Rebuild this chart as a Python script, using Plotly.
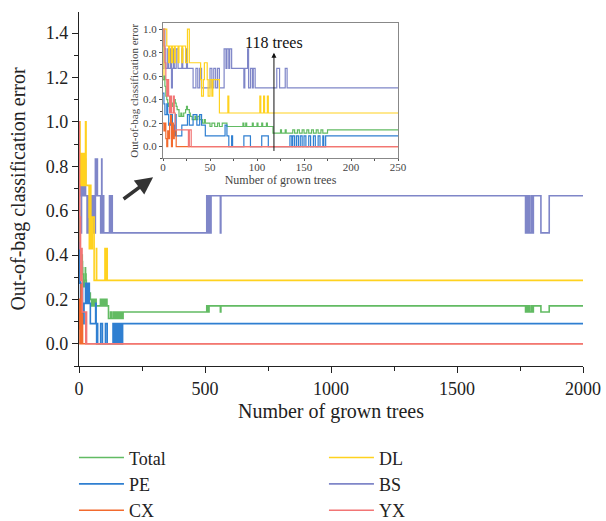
import plotly.graph_objects as go

# ---------------- data (step change points: tree number, error) ----------------
BS_x = [0, 1, 2, 3, 5, 6, 8, 9, 10, 11, 12, 14, 16, 20, 21, 25, 26, 32, 35, 37, 39, 41, 50, 52, 54, 56, 58, 60,
        65, 67, 68, 70, 71, 73, 86, 87, 90, 91, 93, 95, 96, 98, 121, 124, 130, 132,
        507, 510, 512, 515, 518, 521, 524, 561, 563,
        1772, 1776, 1779, 1784, 1788, 1795, 1797, 1803, 1833, 1866, 2000]
BS_y = [0.667, 1.0, 0.833, 0.667, 0.833, 0.667, 0.833, 0.5, 0.667, 0.833, 0.667, 0.833, 0.667, 0.833, 0.667, 0.833, 0.667,
        0.5, 0.667, 0.5, 0.667, 0.5, 0.667, 0.5, 0.667, 0.5, 0.667, 0.5,
        0.833, 0.667, 0.833, 0.667, 0.833, 0.667, 0.5, 0.667, 0.833, 0.5, 0.667, 0.5, 0.667, 0.5, 0.667, 0.5, 0.667, 0.5,
        0.667, 0.5, 0.667, 0.5, 0.667, 0.5, 0.667, 0.5, 0.667,
        0.5, 0.667, 0.5, 0.667, 0.5, 0.667, 0.5, 0.667, 0.5, 0.667, 0.667]

DL_x = [0, 1, 4, 6, 7, 9, 10, 12, 13, 16, 17, 20, 21, 24, 26, 28, 40, 41, 43, 44, 47, 48, 50, 52, 53, 60,
        69, 70, 103, 104, 107, 108, 111, 112, 2000]
DL_y = [0.571, 1.0, 0.857, 0.714, 0.857, 0.714, 0.857, 0.714, 0.857, 0.714, 0.857, 0.714, 0.857, 0.714, 1.0, 0.714,
        0.571, 0.429, 0.571, 0.714, 0.571, 0.429, 0.571, 0.429, 0.571, 0.286,
        0.429, 0.286, 0.429, 0.286, 0.429, 0.286, 0.429, 0.286, 0.286]

TOT_x = [0, 1, 2, 3, 4, 5, 6, 7, 9, 10, 12, 13, 14, 15, 17, 19, 20, 22, 24, 25, 26, 28, 29, 31, 34, 35, 37, 39,
         42, 44, 45, 50, 52, 55, 58, 60, 63, 68, 85, 86, 88, 89, 95, 96, 100, 101, 105, 106, 110, 111,
         117, 125, 126, 130, 131, 138, 140, 143, 145, 148, 150, 153, 155, 158, 160, 163, 165, 168, 170, 175,
         507, 509, 511, 513, 516, 561, 563,
         1772, 1776, 1779, 1784, 1788, 1795, 1797, 1803, 1833, 1866, 2000]
TOT_y = [0.571, 0.6, 0.514, 0.429, 0.4, 0.371, 0.343, 0.371, 0.343, 0.371, 0.4, 0.371, 0.343, 0.314, 0.257, 0.286,
         0.257, 0.286, 0.314, 0.343, 0.314, 0.286, 0.257, 0.229, 0.257, 0.229, 0.257, 0.229,
         0.2, 0.229, 0.2, 0.171, 0.2, 0.171, 0.2, 0.171, 0.2, 0.171, 0.2, 0.171, 0.2, 0.171, 0.2, 0.171, 0.2, 0.171,
         0.2, 0.171, 0.2, 0.171,
         0.114, 0.143, 0.114, 0.143, 0.114, 0.143, 0.114, 0.143, 0.114, 0.143, 0.114, 0.143, 0.114, 0.143, 0.114,
         0.143, 0.114, 0.143, 0.114, 0.143,
         0.171, 0.143, 0.171, 0.143, 0.171, 0.143, 0.171,
         0.143, 0.171, 0.143, 0.171, 0.143, 0.171, 0.143, 0.171, 0.143, 0.171, 0.171]

PE_x = [0, 1, 2, 4, 5, 6, 8, 10, 12, 13, 14, 20, 26, 28, 32, 36, 39, 41, 45, 66, 68, 70, 73, 74, 86, 93, 105, 112,
        135, 137, 138, 140, 142, 144, 146, 148, 150, 152, 155, 157, 160, 162, 165, 167, 170, 171, 173, 2000]
PE_y = [0.455, 0.364, 0.273, 0.364, 0.273, 0.182, 0.273, 0.182, 0.091, 0.273, 0.091, 0.182, 0.273, 0.182, 0.273,
        0.182, 0.273, 0.182, 0.091, 0.182, 0.091, 0.0, 0.091, 0.0, 0.091, 0.0, 0.091, 0.0,
        0.091, 0.0, 0.091, 0.0, 0.091, 0.0, 0.091, 0.0, 0.091, 0.0, 0.091, 0.0, 0.091, 0.0, 0.091, 0.0, 0.091, 0.0,
        0.091, 0.091]

CX_x = [0, 1, 2, 3, 4, 5, 6, 7, 8, 9, 10, 11, 12, 14, 2000]
CX_y = [0.2, 0.133, 0.2, 0.067, 0.0, 0.133, 0.067, 0.2, 0.267, 0.0, 0.2, 0.067, 0.133, 0.0, 0.0]

YX_x = [0, 1, 2, 3, 4, 5, 6, 7, 8, 9, 11, 12, 13, 27, 28, 30, 2000]
YX_y = [1.0, 0.857, 0.714, 0.571, 0.429, 0.571, 0.429, 0.286, 0.429, 0.286, 0.429, 0.286, 0.143, 0.0, 0.143, 0.0, 0.0]

MAIN_XTICKS = [0, 500, 1000, 1500, 2000]
MAIN_YTICKS = [0.0, 0.2, 0.4, 0.6, 0.8, 1.0, 1.2, 1.4]
INSET_XTICKS = [0, 50, 100, 150, 200, 250]
INSET_YTICKS = [0.0, 0.2, 0.4, 0.6, 0.8, 1.0]
OPTIMAL_TREES = 118

# ---------------- styling ----------------
SERIES = [
    # name, x, y, colour, legend, rank
    ("BS", BS_x, BS_y, "#7f86c8", "legend2", 2),
    ("DL", DL_x, DL_y, "#ffd21f", "legend2", 1),
    ("Total", TOT_x, TOT_y, "#62bb63", "legend", 1),
    ("PE", PE_x, PE_y, "#2f7fd1", "legend", 2),
    ("CX", CX_x, CX_y, "#f26a2e", "legend", 3),
    ("YX", YX_x, YX_y, "#f27575", "legend2", 3),
]

FONT = "Liberation Serif"
fig = go.Figure()

for name, xs, ys, col, leg, rank in SERIES:
    fig.add_trace(go.Scatter(x=xs, y=ys, mode="lines", name=name, line=dict(color=col, width=1.6, shape="hv"),
                             legend=leg, legendrank=rank, xaxis="x", yaxis="y"))
for name, xs, ys, col, leg, rank in SERIES:
    fig.add_trace(go.Scatter(x=xs, y=ys, mode="lines", name=name, line=dict(color=col, width=1.2, shape="hv"),
                             showlegend=False, xaxis="x2", yaxis="y2"))

fig.update_layout(
    width=606, height=521,
    margin=dict(l=79, r=23, t=12, b=155, autoexpand=False),
    paper_bgcolor="white", plot_bgcolor="white",
    font=dict(family=FONT, color="#222222"),
    xaxis=dict(domain=[0, 1], range=[0, 2000], tickvals=MAIN_XTICKS, showgrid=False, zeroline=False, automargin=False,
               showline=True, linecolor="#222", linewidth=1.3, ticks="outside", ticklen=6, tickcolor="#222",
               tickfont=dict(size=18), minor=dict(dtick=250, ticks="outside", ticklen=4, tickcolor="#222"),
               title=dict(text="Number of grown trees", font=dict(size=20), standoff=6)),
    yaxis=dict(domain=[0, 1], range=[-0.1, 1.495], tickvals=MAIN_YTICKS, tickformat=".1f", showgrid=False,
               automargin=False,
               zeroline=False, showline=True, linecolor="#222", linewidth=1.3, ticks="outside", ticklen=6,
               tickcolor="#222", tickfont=dict(size=18),
               minor=dict(dtick=0.1, ticks="outside", ticklen=4, tickcolor="#222"),
               title=dict(text="Out-of-bag classification error", font=dict(size=20), standoff=14)),
    xaxis2=dict(domain=[0.1667, 0.633], anchor="y2", range=[0, 250], tickvals=INSET_XTICKS, showgrid=False,
                zeroline=False, showline=True, mirror=True, linecolor="#888", linewidth=1, ticks="outside",
                ticklen=2, tickcolor="#555", tickfont=dict(size=11, color="#444"), automargin=False,
                ticklabelstandoff=-4,
                minor=dict(dtick=25, ticks="outside", ticklen=2, tickcolor="#555"),
                title=dict(text="Number of grown trees", font=dict(size=12, color="#444"), standoff=0)),
    yaxis2=dict(domain=[0.5867, 0.968], anchor="x2", range=[-0.1, 1.05], tickvals=INSET_YTICKS, tickformat=".1f",
                showgrid=False, zeroline=False, showline=True, mirror=True, linecolor="#888", linewidth=1,
                ticks="outside", ticklen=3, tickcolor="#555", tickfont=dict(size=11, color="#444"), automargin=False,
                minor=dict(dtick=0.1, ticks="outside", ticklen=2, tickcolor="#555"),
                title=dict(text="Out-of-bag classification error", font=dict(size=11, color="#444"), standoff=2)),
    legend=dict(x=-0.01, y=-0.207, xanchor="left", yanchor="top", orientation="v", font=dict(size=18),
                bgcolor="rgba(0,0,0,0)", tracegroupgap=0, itemwidth=45),
    legend2=dict(x=0.486, y=-0.207, xanchor="left", yanchor="top", orientation="v", font=dict(size=18),
                 bgcolor="rgba(0,0,0,0)", tracegroupgap=0, itemwidth=45),
    showlegend=True,
)

# arrow marking the chosen number of trees in the inset
fig.add_annotation(x=OPTIMAL_TREES, y=0.8, ax=OPTIMAL_TREES, ay=-0.05, xref="x2", yref="y2", axref="x2", ayref="y2",
                   showarrow=True, arrowhead=2, arrowsize=1, arrowwidth=1, arrowcolor="#111", text="")
fig.add_annotation(x=OPTIMAL_TREES, y=0.89, xref="x2", yref="y2", text=f"{OPTIMAL_TREES} trees", showarrow=False,
                   font=dict(size=16, color="#111"), xanchor="center", yanchor="middle")

# big arrow pointing to the inset
fig.add_annotation(x=294, y=0.751, xref="x", yref="y", ax=-31, ay=23, showarrow=True, arrowhead=2, arrowsize=1,
                   arrowwidth=3.5, arrowcolor="#333", text="")

fig.write_html("out.html")
